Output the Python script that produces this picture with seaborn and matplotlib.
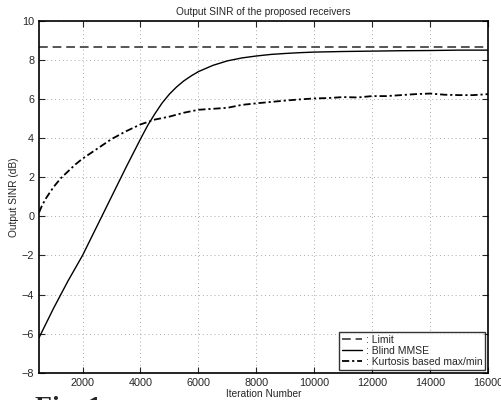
import numpy as np
import pandas as pd
import seaborn as sns
import matplotlib
matplotlib.use('Agg')
import matplotlib.pyplot as plt

# values
iters_mmse = [500, 1000, 1500, 2000, 2500, 3000, 3500, 4000, 4250, 4500, 4750, 5000,
              5250, 5500, 5750, 6000, 6500, 7000, 7500, 8000, 8500, 9000, 9500,
              10000, 11000, 12000, 13000, 14000, 15000, 16000]
sinr_mmse = [-6.2, -4.7, -3.3, -2.0, -0.5, 1.0, 2.5, 3.95, 4.65, 5.25, 5.8, 6.25,
             6.62, 6.93, 7.18, 7.4, 7.72, 7.95, 8.1, 8.2, 8.28, 8.33, 8.37,
             8.4, 8.43, 8.45, 8.47, 8.48, 8.5, 8.5]

iters_kurt = [500, 600, 750, 1000, 1250, 1500, 1750, 2000, 2500, 3000, 3500, 4000,
              4500, 5000, 5500, 6000, 6500, 7000, 7500, 8000, 8500, 9000, 9500,
              10000, 10500, 11000, 11500, 12000, 12500, 13000, 13500, 14000, 14500,
              15000, 15500, 16000]
sinr_kurt = [0.2, 0.55, 0.95, 1.5, 1.95, 2.3, 2.65, 2.95, 3.45, 3.95, 4.35, 4.7,
             4.95, 5.1, 5.3, 5.45, 5.5, 5.55, 5.7, 5.78, 5.85, 5.92, 5.98,
             6.03, 6.05, 6.1, 6.08, 6.15, 6.15, 6.2, 6.25, 6.28, 6.22,
             6.2, 6.2, 6.25]

sinr_limit = 8.65

sns.set_style('ticks')
plt.rcParams['font.family'] = ['Liberation Sans', 'DejaVu Sans']

fig = plt.figure(figsize=(5.01, 4.0), dpi=100)
ax = fig.add_axes([0.078, 0.068, 0.896, 0.880])

ax.axhline(sinr_limit, color='#555555', lw=1.4, ls=(0, (4.5, 2.5)), label=': Limit')
sns.lineplot(x=iters_mmse, y=sinr_mmse, ax=ax, color='black', lw=1.0,
             label=': Blind MMSE')
sns.lineplot(x=iters_kurt, y=sinr_kurt, ax=ax, color='black', lw=1.3,
             linestyle=(0, (4, 1.6, 1.2, 1.6)), label=': Kurtosis based max/min')

ax.set_xlim(500, 16000)
ax.set_ylim(-8, 10)
ax.set_xticks(np.arange(2000, 16001, 2000))
ax.set_yticks(np.arange(-8, 11, 2))
ax.set_yticklabels([str(v).replace('-', '\u2212') for v in range(-8, 11, 2)])
ax.grid(True, color='#aaaaaa', ls=(0, (1, 3)), lw=0.7)
ax.tick_params(direction='in', top=True, right=True, labelsize=7.8, length=4, width=0.8)
for s in ax.spines.values():
    s.set_linewidth(1.2)
    s.set_color('black')

ax.set_title('Output SINR of the proposed receivers', fontsize=7.3, pad=4)
ax.set_xlabel('Iteration Number', fontsize=7.3, labelpad=1)
ax.set_ylabel('Output SINR (dB)', fontsize=7.3, labelpad=2)

leg = ax.legend(loc='lower right', fontsize=7.5, frameon=True, fancybox=False,
                handlelength=2.0, handletextpad=0.3, borderpad=0.25,
                labelspacing=0.1, borderaxespad=0.3)
leg.get_frame().set_edgecolor('black')
leg.get_frame().set_linewidth(1.0)

# top of the caption line from the page, cut off by the crop
fig.text(0.07, 0.009, 'Fig. 1', fontsize=20, fontweight='bold',
         family=['Liberation Serif', 'DejaVu Serif'], va='top')

fig.savefig('out.png', dpi=100)
